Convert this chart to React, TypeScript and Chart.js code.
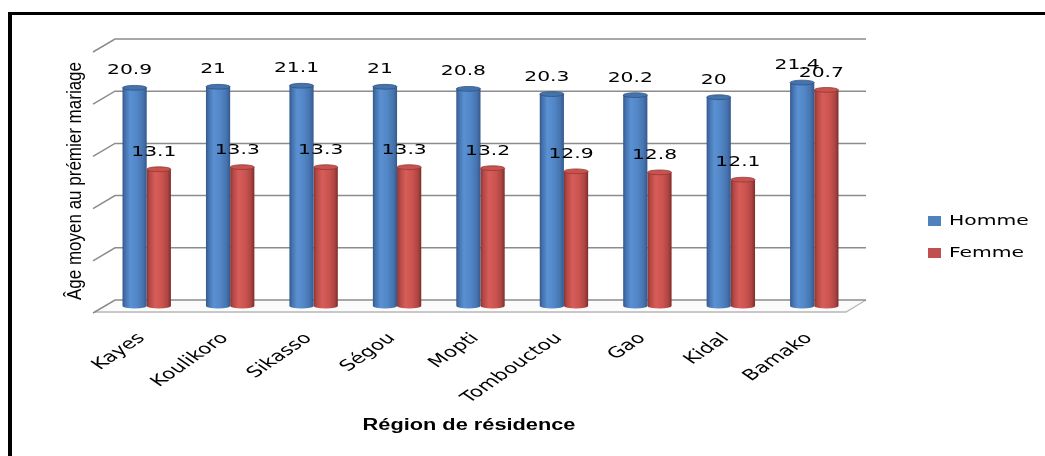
import React, { useEffect, useRef } from "react";
import { Chart, registerables } from "chart.js";

Chart.register(...registerables);

const regions = ["Kayes", "Koulikoro", "Sikasso", "Ségou", "Mopti", "Tombouctou", "Gao", "Kidal", "Bamako"];
const homme = [20.9, 21, 21.1, 21, 20.8, 20.3, 20.2, 20, 21.4];
const femme = [13.1, 13.3, 13.3, 13.3, 13.2, 12.9, 12.8, 12.1, 20.7];
const yTicks = [0, 5, 10, 15, 20, 25];
const seriesNames = ["Homme", "Femme"];
const yTitle = "Âge moyen au prémier mariage";
const xTitle = "Région de résidence";

const SERIES_COLORS = ["#4F81BD", "#C0504D"];
const BAR_STOPS: [number, string][][] = [
  [[0, "#33578a"], [0.1, "#4370ab"], [0.32, "#5a91d3"], [0.6, "#5286c6"], [0.85, "#4573ae"], [1, "#34598a"]],
  [[0, "#8a3330"], [0.12, "#b44845"], [0.35, "#d65d59"], [0.62, "#cc5450"], [0.86, "#ae4542"], [1, "#7c2d2b"]],
];
const CAP_FILL = ["#4574ad", "#c9524e"];
const CAP_RIM = ["#2f5383", "#933835"];

const SX = 1.45; // horizontal stretch of the original picture
const DX = 10;
const DY = 6;
const RY = 2.4;

const fake3d = {
  id: "fake3d",
  beforeDatasetsDraw(chart: any) {
    const ctx = chart.ctx as CanvasRenderingContext2D;
    const ys = chart.scales.y;
    const ca = chart.chartArea;
    const z = ys.getPixelForValue(0);
    ctx.save();
    ctx.fillStyle = "#fbfbfb";
    ctx.beginPath();
    ctx.moveTo(ca.left - DX, z + DY);
    ctx.lineTo(ca.right - DX, z + DY);
    ctx.lineTo(ca.right + DX, z - DY);
    ctx.lineTo(ca.left + DX, z - DY);
    ctx.closePath();
    ctx.fill();
    ctx.strokeStyle = "#b8b8b8";
    ctx.lineWidth = 1.4;
    ctx.beginPath();
    ctx.moveTo(ca.left - DX, z + DY);
    ctx.lineTo(ca.right - DX, z + DY);
    ctx.lineTo(ca.right + DX, z - DY);
    ctx.stroke();
    ctx.strokeStyle = "#8c8c8c";
    ctx.lineWidth = 1.5;
    yTicks.forEach((v) => {
      const y = ys.getPixelForValue(v);
      ctx.beginPath();
      ctx.moveTo(ca.left - DX - 2, y + DY + 1);
      ctx.lineTo(ca.left + DX, y - DY);
      ctx.lineTo(ca.right + DX, y - DY);
      ctx.stroke();
    });
    ctx.restore();
    chart.data.datasets.forEach((_ds: any, i: number) => {
      const meta = chart.getDatasetMeta(i);
      meta.data.forEach((el: any) => {
        const { x, width } = el.getProps(["x", "width"], true);
        const g = ctx.createLinearGradient(x - width / 2, 0, x + width / 2, 0);
        BAR_STOPS[i].forEach(([o, c]) => g.addColorStop(o, c));
        if (el.options && !Object.isFrozen(el.options)) el.options.backgroundColor = g;
      });
    });
  },
  afterDatasetsDraw(chart: any) {
    const ctx = chart.ctx as CanvasRenderingContext2D;
    ctx.save();
    chart.data.datasets.forEach((_ds: any, i: number) => {
      const meta = chart.getDatasetMeta(i);
      meta.data.forEach((el: any) => {
        const { x, y, base, width } = el.getProps(["x", "y", "base", "width"], true);
        const g = ctx.createLinearGradient(x - width / 2, 0, x + width / 2, 0);
        BAR_STOPS[i].forEach(([o, c]) => g.addColorStop(o, c));
        ctx.fillStyle = g;
        ctx.beginPath();
        ctx.ellipse(x, base, width / 2, RY, 0, 0, Math.PI);
        ctx.fill();
        ctx.fillStyle = CAP_FILL[i];
        ctx.strokeStyle = CAP_RIM[i];
        ctx.lineWidth = 0.8;
        ctx.beginPath();
        ctx.ellipse(x, y, width / 2, RY, 0, 0, Math.PI * 2);
        ctx.fill();
        ctx.stroke();
      });
    });
    ctx.fillStyle = "#000";
    ctx.font = "14px 'DejaVu Sans'";
    ctx.textAlign = "center";
    ctx.textBaseline = "middle";
    chart.data.datasets.forEach((ds: any, i: number) => {
      const meta = chart.getDatasetMeta(i);
      meta.data.forEach((el: any, j: number) => {
        const { x, y } = el.getProps(["x", "y"], true);
        ctx.save();
        ctx.translate(x - 5, y - 17);
        ctx.scale(SX, 1);
        ctx.fillText(String(ds.data[j]), 0, 0);
        ctx.restore();
      });
    });
    ctx.restore();
  },
  afterDraw(chart: any) {
    const ctx = chart.ctx as CanvasRenderingContext2D;
    const xs = chart.scales.x;
    const ca = chart.chartArea;
    ctx.save();
    ctx.fillStyle = "#000";
    ctx.font = "15px 'DejaVu Sans'";
    ctx.textAlign = "right";
    ctx.textBaseline = "middle";
    regions.forEach((lab, i) => {
      const tx = xs.getPixelForValue(i);
      ctx.save();
      ctx.translate(tx - 5, ca.bottom + 30);
      ctx.scale(SX, 1);
      ctx.rotate(-Math.PI / 4);
      ctx.fillText(lab, 0, 0);
      ctx.restore();
    });
    ctx.save();
    ctx.translate(75, 181);
    ctx.rotate(-Math.PI / 2);
    ctx.font = "20px 'Liberation Sans Narrow', 'Liberation Sans'";
    ctx.textAlign = "center";
    ctx.textBaseline = "middle";
    ctx.fillText(yTitle, 0, 0, 238);
    ctx.restore();
    ctx.save();
    ctx.translate(469, 426);
    ctx.scale(1.36, 1);
    ctx.font = "bold 16px 'Liberation Sans'";
    ctx.textAlign = "center";
    ctx.textBaseline = "middle";
    ctx.fillText(xTitle, 0, 0);
    ctx.restore();
    seriesNames.forEach((name, i) => {
      const ly = 221 + i * 32;
      ctx.fillStyle = SERIES_COLORS[i];
      ctx.fillRect(928, ly - 5, 13, 10);
      ctx.save();
      ctx.fillStyle = "#000";
      ctx.translate(949, ly);
      ctx.scale(SX, 1);
      ctx.font = "14px 'DejaVu Sans'";
      ctx.textAlign = "left";
      ctx.textBaseline = "middle";
      ctx.fillText(name, 0, 0);
      ctx.restore();
    });
    ctx.restore();
  },
};

export default function App() {
  const ref = useRef<HTMLCanvasElement>(null);
  useEffect(() => {
    const chart = new Chart(ref.current!, {
      type: "bar",
      data: {
        labels: regions,
        datasets: [
          { label: seriesNames[0], data: homme, backgroundColor: () => SERIES_COLORS[0], borderWidth: 0 },
          { label: seriesNames[1], data: femme, backgroundColor: () => SERIES_COLORS[1], borderWidth: 0 },
        ],
      },
      options: {
        responsive: false,
        maintainAspectRatio: false,
        devicePixelRatio: 1,
        animation: false,
        layout: { padding: { left: 105, right: 189, top: 45, bottom: 150 } },
        datasets: { bar: { categoryPercentage: 0.58, barPercentage: 1 } },
        scales: {
          x: { display: false, offset: true },
          y: { display: false, min: 0, max: 25 },
        },
        plugins: { legend: { display: false }, tooltip: { enabled: false } },
      },
      plugins: [fake3d],
    });
    return () => chart.destroy();
  }, []);
  return (
    <div>
      <div
        style={{
          position: "fixed",
          left: 8,
          top: 12,
          width: 1100,
          height: 500,
          borderLeft: "4px solid #000",
          borderTop: "3px solid #000",
          boxSizing: "border-box",
        }}
      />
      <canvas
        ref={ref}
        width={1045}
        height={456}
        style={{ position: "fixed", left: 0, top: 0, width: 1045, height: 456 }}
      />
    </div>
  );
}
